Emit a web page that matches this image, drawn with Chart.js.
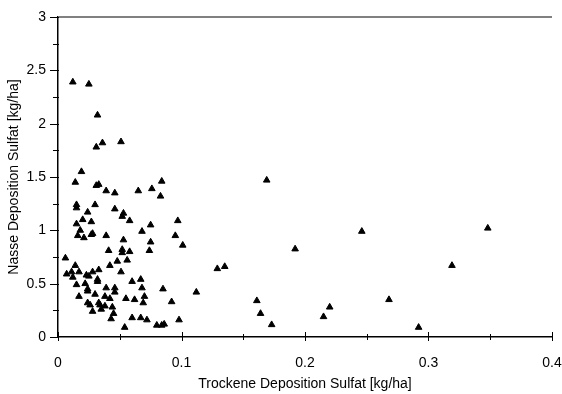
<!DOCTYPE html>
<html>
<head>
<meta charset="utf-8">
<script src="https://cdn.jsdelivr.net/npm/chart.js@4/dist/chart.umd.min.js"></script>
<style>
html,body{margin:0;padding:0;background:#fff;}
#wrap{width:562px;height:394px;position:relative;}
</style>
</head>
<body>
<div id="wrap"><canvas id="c" width="562" height="394"></canvas></div>
<script>
// Dry deposition sulfate (x) [kg/ha]
const dryDeposition = [
  0.012, 0.025, 0.032, 0.031, 0.036, 0.051, 0.019,
  0.014, 0.031, 0.033, 0.039, 0.046, 0.065, 0.076, 0.084, 0.083,
  0.015, 0.015, 0.030, 0.024, 0.046, 0.053, 0.052, 0.058, 0.020, 0.027, 0.015, 0.018, 0.016, 0.021, 0.027, 0.028, 0.039, 0.053, 0.068, 0.075, 0.075, 0.097, 0.095, 0.101,
  0.041, 0.052, 0.052, 0.058, 0.074,
  0.006, 0.014, 0.042, 0.048, 0.056,
  0.007, 0.011, 0.017, 0.012, 0.015, 0.023, 0.025, 0.028, 0.033, 0.032, 0.032, 0.022, 0.051, 0.060, 0.067, 0.068,
  0.039, 0.046, 0.046, 0.024, 0.024, 0.017, 0.030, 0.038, 0.042, 0.055, 0.062, 0.070, 0.069, 0.085, 0.092,
  0.024, 0.026, 0.033, 0.034, 0.038, 0.035, 0.028, 0.044, 0.045, 0.043, 0.060, 0.067, 0.072, 0.054, 0.080, 0.084, 0.086, 0.098,
  0.169, 0.246, 0.348, 0.192, 0.129, 0.135, 0.319, 0.112, 0.161, 0.164, 0.173, 0.220, 0.215, 0.268, 0.292
];
// Wet deposition sulfate (y) [kg/ha]
const wetDeposition = [
  2.39, 2.37, 2.08, 1.78, 1.82, 1.83, 1.55,
  1.45, 1.42, 1.43, 1.37, 1.35, 1.37, 1.39, 1.46, 1.32,
  1.24, 1.21, 1.24, 1.17, 1.20, 1.16, 1.13, 1.09, 1.10, 1.08, 1.06, 1.00, 0.95, 0.93, 0.96, 0.97, 0.95, 0.91, 0.99, 1.05, 0.89, 1.09, 0.95, 0.86,
  0.81, 0.82, 0.79, 0.80, 0.81,
  0.74, 0.67, 0.67, 0.71, 0.72,
  0.59, 0.61, 0.61, 0.56, 0.49, 0.58, 0.57, 0.61, 0.63, 0.54, 0.52, 0.50, 0.61, 0.52, 0.54, 0.46,
  0.46, 0.46, 0.42, 0.45, 0.43, 0.38, 0.40, 0.38, 0.36, 0.36, 0.35, 0.38, 0.32, 0.45, 0.33,
  0.32, 0.30, 0.32, 0.30, 0.29, 0.26, 0.24, 0.28, 0.22, 0.17, 0.18, 0.18, 0.16, 0.09, 0.11, 0.11, 0.12, 0.16,
  1.47, 0.99, 1.02, 0.825, 0.64, 0.66, 0.67, 0.42, 0.34, 0.22, 0.115, 0.28, 0.19, 0.35, 0.09
];
const xTickLabels = ['0', '0.1', '0.2', '0.3', '0.4'];
const yTickLabels = ['0', '0.5', '1', '1.5', '2', '2.5', '3'];
const xTitle = 'Trockene Deposition Sulfat [kg/ha]';
const yTitle = 'Nasse Deposition Sulfat [kg/ha]';

const points = dryDeposition.map((x, i) => ({x: x, y: wetDeposition[i]}));
const FONT = '"Liberation Sans", Arial, sans-serif';

// Draws axis tick marks (major crossing, minor short) from the scales, plus gray top frame line
const axisDecor = {
  id: 'axisDecor',
  afterDraw(chart) {
    const {ctx, chartArea, scales} = chart;
    const xs = scales.x, ys = scales.y;
    const y0 = ys.getPixelForValue(0);
    const x0 = xs.getPixelForValue(0);
    ctx.save();
    ctx.strokeStyle = '#808080';
    ctx.lineWidth = 2;
    ctx.beginPath();
    ctx.moveTo(chartArea.left, ys.getPixelForValue(3));
    ctx.lineTo(chartArea.right, ys.getPixelForValue(3));
    ctx.stroke();
    ctx.strokeStyle = '#000';
    ctx.lineWidth = 1;
    xs.ticks.forEach((t, i) => {
      const px = Math.round(xs.getPixelForValue(t.value)) + 0.5;
      const major = i % 2 === 0;
      ctx.beginPath();
      ctx.moveTo(px, y0 - (major ? 5 : 3));
      ctx.lineTo(px, y0 + (major ? 4 : 3));
      ctx.stroke();
    });
    ys.ticks.forEach((t, i) => {
      const py = Math.round(ys.getPixelForValue(t.value)) + 0.5;
      const major = i % 2 === 0;
      ctx.beginPath();
      ctx.moveTo(x0 - (major ? 8 : 5), py);
      ctx.lineTo(x0 + 1, py);
      ctx.stroke();
    });
    ctx.restore();
  }
};

new Chart(document.getElementById('c'), {
  type: 'scatter',
  data: {
    datasets: [{
      data: points,
      pointStyle: 'triangle',
      pointRadius: 3.8,
      pointBackgroundColor: '#000',
      pointBorderColor: '#000',
      pointBorderWidth: 1
    }]
  },
  options: {
    responsive: false,
    animation: false,
    layout: {padding: {top: 17, right: 10, left: 0, bottom: 0}},
    plugins: {legend: {display: false}, tooltip: {enabled: false}},
    scales: {
      x: {
        type: 'linear', min: 0, max: 0.4,
        afterFit(s) { s.height = 57; s.paddingLeft = 0; s.paddingRight = 0; },
        grid: {display: false, drawTicks: false},
        border: {display: true, color: '#000', width: 1.5},
        ticks: {
          stepSize: 0.05, autoSkip: false, maxRotation: 0, padding: 18,
          color: '#000', font: {family: FONT, size: 14},
          callback: (v, i) => (i % 2 === 0 ? xTickLabels[i / 2] : '')
        },
        title: {display: true, text: xTitle, color: '#000', font: {family: FONT, size: 14}, padding: {top: 0, bottom: 1}}
      },
      y: {
        type: 'linear', min: 0, max: 3,
        afterFit(s) { s.width = 58; s.paddingTop = 0; s.paddingBottom = 0; },
        grid: {display: false, drawTicks: false},
        border: {display: true, color: '#000', width: 1.5},
        ticks: {
          stepSize: 0.25, autoSkip: false, padding: 12,
          color: '#000', font: {family: FONT, size: 14},
          callback: (v, i) => (i % 2 === 0 ? yTickLabels[i / 2] : '')
        },
        title: {display: true, text: yTitle, color: '#000', font: {family: FONT, size: 14}, padding: {top: 6, bottom: 0}}
      }
    }
  },
  plugins: [axisDecor]
});
</script>
</body>
</html>
